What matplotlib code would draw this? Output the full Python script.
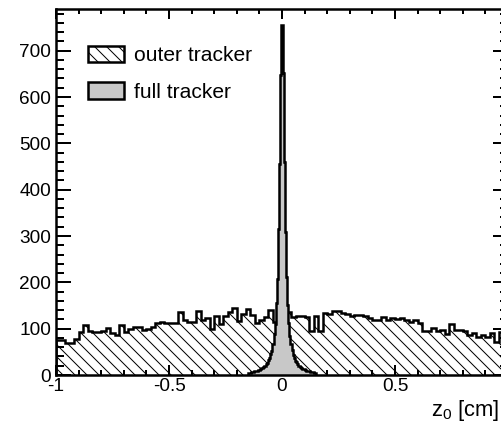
import numpy as np
import matplotlib
matplotlib.use("Agg")
import matplotlib.pyplot as plt
from matplotlib.patches import Patch
from matplotlib.ticker import MultipleLocator, FuncFormatter

plt.rcParams['font.family'] = ['Liberation Sans', 'DejaVu Sans']
plt.rcParams['axes.unicode_minus'] = False
plt.rcParams['hatch.linewidth'] = 1.0
plt.rcParams['mathtext.default'] = 'regular'

# z0 distribution, outer tracker only: 100 bins of 0.02 cm in [-1, 1]
outer_edges = np.linspace(-1.0, 1.0, 101)
outer_counts = [
    76, 75, 70, 69, 77, 92, 108, 96, 93, 92,
    95, 101, 90, 86, 108, 92, 99, 104, 104, 97,
    99, 104, 112, 114, 113, 112, 112, 135, 119, 114,
    114, 139, 118, 122, 100, 127, 110, 128, 136, 144,
    116, 132, 142, 130, 113, 119, 125, 140, 115, 120,
    130, 137, 126, 128, 127, 126, 95, 127, 95, 133,
    131, 139, 139, 133, 131, 127, 130, 129, 127, 122,
    119, 119, 126, 119, 122, 120, 122, 118, 115, 119,
    112, 94, 94, 101, 94, 97, 88, 110, 97, 97,
    94, 86, 90, 83, 86, 83, 90, 72, 92, 80,
]

# z0 distribution, full tracker: 61 bins of 0.005 cm centred on 0
full_edges = np.linspace(-0.1525, 0.1525, 62)
full_counts = [
    4, 5, 5, 6, 6, 7, 8, 8, 9, 10,
    11, 12, 15, 15, 18, 19, 24, 26, 32, 36,
    45, 52, 66, 88, 110, 155, 208, 315, 455, 648,
    755,
    651, 460, 309, 212, 151, 112, 85, 67, 54, 44,
    37, 31, 27, 23, 20, 18, 16, 14, 13, 12,
    10, 9, 9, 8, 7, 7, 6, 6, 5, 5,
]

x_tick_labels = {-1.0: '-1', -0.5: '-0.5', 0.0: '0', 0.5: '0.5', 1.0: ''}

tick_size = 19
legend_size = 21
hatch_style = '\\\\'

fig = plt.figure(figsize=(501 / 72, 423 / 72), dpi=72)
ax = fig.add_axes([56 / 501, 48 / 423, 452 / 501, 366 / 423])

# outer tracker: hatched area with a heavy step outline
ax.stairs(outer_counts, outer_edges, fill=True, facecolor='white',
          edgecolor='black', hatch=hatch_style, linewidth=0, zorder=1)
ax.stairs(outer_counts, outer_edges, color='black', linewidth=2.5, zorder=2)

# full tracker: grey filled narrow peak
ax.stairs(full_counts, full_edges, fill=True, facecolor='#c8c8c8',
          linewidth=0, zorder=3)
ax.stairs(full_counts, full_edges, color='black', linewidth=2.5, zorder=4)

ax.set_xlim(-1, 1)
ax.set_ylim(0, 790)

ax.xaxis.set_major_locator(MultipleLocator(0.5))
ax.xaxis.set_minor_locator(MultipleLocator(0.1))
ax.yaxis.set_major_locator(MultipleLocator(100))
ax.yaxis.set_minor_locator(MultipleLocator(20))
ax.xaxis.set_major_formatter(
    FuncFormatter(lambda v, p: x_tick_labels.get(round(v, 2), '%g' % v)))

ax.tick_params(which='both', direction='in', top=True, right=True,
               width=2, labelsize=tick_size, color='black')
ax.tick_params(axis='y', which='major', length=15, pad=5)
ax.tick_params(axis='y', which='minor', length=8)
ax.tick_params(axis='x', which='major', length=10, pad=3)
ax.tick_params(axis='x', which='minor', length=5)

for sp in ax.spines.values():
    sp.set_linewidth(2.5)
    sp.set_zorder(5)

ax.set_xlabel(r'$z_0$ [cm]', fontsize=22, ha='right')
ax.xaxis.set_label_coords(0.982, -0.062)

handles = [
    Patch(facecolor='white', edgecolor='black', hatch=hatch_style,
          linewidth=2.5, label='outer tracker'),
    Patch(facecolor='#c8c8c8', edgecolor='black', linewidth=2.5,
          label='full tracker'),
]
ax.legend(handles=handles, loc='upper left', bbox_to_anchor=(0.0708, 0.900),
          frameon=False, fontsize=legend_size, borderpad=0, borderaxespad=0,
          handlelength=1.714, handleheight=0.857, handletextpad=0.476,
          labelspacing=0.8)

fig.savefig('out.png', dpi=72)
